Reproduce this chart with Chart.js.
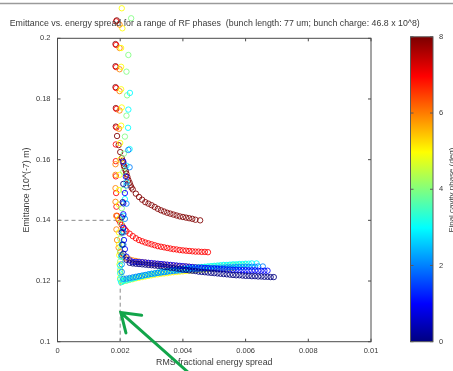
<!DOCTYPE html>
<html>
<head>
<meta charset="utf-8">
<script src="https://cdn.jsdelivr.net/npm/chart.js@4/dist/chart.umd.min.js"></script>
<style>
  html, body { margin: 0; padding: 0; background: #fff; }
  canvas { display: block; }
</style>
</head>
<body>
<canvas id="chart" width="453" height="371"></canvas>
<script>
//--Datos: cada fase de RF es una serie de puntos [dispersion, emitancia]----
var phase0 = [[0.0021,0.152],[0.00208,0.146],[0.00205,0.141],[0.00205,0.136],[0.00207,0.132],[0.0021,0.129],[0.0022,0.127],[0.0023,0.126],
  [0.0024,0.1258],[0.0025,0.1257],[0.0026,0.1256],[0.0027,0.1255],[0.0028,0.1254],[0.0029,0.1253],[0.0030,0.1252],[0.0031,0.1251],[0.0032,0.1250],
  [0.0033,0.1249],[0.0034,0.1247],[0.0035,0.1246],[0.0036,0.1244],[0.0037,0.1243],[0.0038,0.1241],[0.0039,0.1240],[0.0040,0.1238],[0.0041,0.1237],
  [0.0042,0.1235],[0.0043,0.1234],[0.0044,0.1233],[0.0045,0.1231],[0.0046,0.1230],[0.0047,0.1229],[0.0048,0.1228],[0.0049,0.1227],[0.0050,0.1226],
  [0.0051,0.1225],[0.0052,0.1224],[0.0053,0.1223],[0.0054,0.1222],[0.0055,0.1221],[0.0056,0.1220],[0.0057,0.1219],[0.0058,0.1219],[0.0059,0.1218],
  [0.0060,0.1217],[0.0061,0.1217],[0.0062,0.1216],[0.0063,0.1216],[0.0064,0.1215],[0.0065,0.1215],[0.0066,0.1214],[0.0067,0.1214],[0.0068,0.1213],[0.0069,0.1213]];

var phase1 = [[0.0021,0.1593],[0.00218,0.1544],[0.00215,0.149],[0.0021,0.1456],[0.0021,0.142],[0.0021,0.1375],[0.00212,0.1335],[0.00215,0.1305],[0.0022,0.128],[0.0023,0.1268],
  [0.0024,0.1263],[0.0025,0.1263],[0.0026,0.1262],[0.0027,0.1262],[0.0028,0.1261],[0.0029,0.1260],[0.0030,0.1259],[0.0031,0.1258],[0.0032,0.1257],
  [0.0033,0.1256],[0.0034,0.1255],[0.0035,0.1254],[0.0036,0.1253],[0.0037,0.1252],[0.0038,0.1251],[0.0039,0.1250],[0.0040,0.1249],[0.0041,0.1248],
  [0.0042,0.1247],[0.0043,0.1246],[0.0044,0.1245],[0.0045,0.1244],[0.0046,0.1244],[0.0047,0.1243],[0.0048,0.1242],[0.0049,0.1241],[0.0050,0.1241],
  [0.0051,0.1240],[0.0052,0.1239],[0.0053,0.1239],[0.0054,0.1238],[0.0055,0.1238],[0.0056,0.1237],[0.0057,0.1237],[0.0058,0.1236],[0.0059,0.1236],
  [0.0060,0.1236],[0.0061,0.1235],[0.0062,0.1235],[0.0063,0.1235],[0.0064,0.1234],[0.0065,0.1234],[0.0066,0.1234],[0.0067,0.1234]];

var phase2 = [[0.00226,0.1632],[0.0023,0.1575],[0.0022,0.1515],[0.0022,0.1455],[0.00215,0.1405],[0.0021,0.136],[0.0021,0.132],[0.00205,0.1285],[0.00205,0.1255],[0.00205,0.123],
  [0.0021,0.1207],[0.0022,0.1208],[0.0023,0.1210],[0.0024,0.1212],[0.0025,0.1214],[0.0026,0.1216],[0.0027,0.1218],[0.0028,0.1220],[0.0029,0.1222],
  [0.0030,0.1224],[0.0031,0.1225],[0.0032,0.1227],[0.0033,0.1228],[0.0034,0.1229],[0.0035,0.1231],[0.0036,0.1232],[0.0037,0.1233],[0.0038,0.1234],
  [0.0039,0.1235],[0.0040,0.1236],[0.0041,0.1237],[0.0042,0.1238],[0.0043,0.1239],[0.0044,0.1239],[0.0045,0.1240],[0.0046,0.1241],[0.0047,0.1241],
  [0.0048,0.1242],[0.0049,0.1242],[0.0050,0.1243],[0.0051,0.1243],[0.0052,0.1244],[0.0053,0.1244],[0.0054,0.1245],[0.0055,0.1245],[0.0056,0.1245],
  [0.0057,0.1246],[0.0058,0.1246],[0.0059,0.1246],[0.0060,0.1247],[0.0061,0.1247],[0.0062,0.1247],[0.0063,0.1247],[0.0064,0.1248],[0.00655,0.1248]];

var phase3 = [[0.00231,0.182],[0.00226,0.1765],[0.00225,0.1705],[0.0023,0.1635],[0.0022,0.158],[0.0022,0.1525],[0.00215,0.147],[0.0021,0.1415],[0.00208,0.1365],
  [0.00205,0.132],[0.00203,0.128],[0.002,0.125],[0.002,0.1225],[0.002,0.1205],[0.00203,0.1196],
  [0.0021,0.1200],[0.0022,0.1202],[0.0023,0.1205],[0.0024,0.1208],[0.0025,0.1211],[0.0026,0.1214],[0.0027,0.1216],[0.0028,0.1219],[0.0029,0.1221],
  [0.0030,0.1223],[0.0031,0.1225],[0.0032,0.1227],[0.0033,0.1229],[0.0034,0.1231],[0.0035,0.1232],[0.0036,0.1234],[0.0037,0.1235],[0.0038,0.1237],
  [0.0039,0.1238],[0.0040,0.1239],[0.0041,0.1241],[0.0042,0.1242],[0.0043,0.1243],[0.0044,0.1244],[0.0045,0.1245],[0.0046,0.1246],[0.0047,0.1247],
  [0.0048,0.1248],[0.0049,0.1249],[0.0050,0.1250],[0.0051,0.1251],[0.0052,0.1252],[0.0053,0.1253],[0.0054,0.1253],[0.0055,0.1254],[0.0056,0.1255],
  [0.0057,0.1255],[0.0058,0.1256],[0.0059,0.1256],[0.0060,0.1257],[0.0061,0.1257],[0.0062,0.1258],[0.00635,0.1258]];

var phase4 = [[0.00235,0.2066],[0.00226,0.1945],[0.0022,0.189],[0.00222,0.1812],[0.0022,0.1745],[0.00215,0.1676],[0.00212,0.162],[0.0021,0.156],[0.0021,0.15],
  [0.00205,0.144],[0.00203,0.139],[0.002,0.134],[0.002,0.13],[0.002,0.1265],[0.002,0.1237],[0.00205,0.1215],[0.0021,0.1203],
  [0.0022,0.1205],[0.0023,0.1207],[0.0024,0.1210],[0.0025,0.1212],[0.0026,0.1215],[0.0027,0.1217],[0.0028,0.1219],[0.0029,0.1221],[0.0030,0.1223],
  [0.0031,0.1225],[0.0032,0.1227],[0.0033,0.1229],[0.0034,0.1230],[0.0035,0.1232],[0.0036,0.1233],[0.0037,0.1235],[0.0038,0.1236],[0.0039,0.1237],
  [0.0040,0.1238],[0.0041,0.1240],[0.0042,0.1241],[0.0043,0.1242],[0.0044,0.1243],[0.0045,0.1244],[0.0046,0.1245],[0.0047,0.1246],[0.0048,0.1247],
  [0.0049,0.1248],[0.0050,0.1249],[0.0051,0.1249],[0.0052,0.1250],[0.0053,0.1251],[0.0054,0.1251],[0.0055,0.1252],[0.0056,0.1253],[0.0057,0.1253],
  [0.0058,0.1254],[0.0059,0.1254],[0.0060,0.1255]];

var phase5 = [[0.00205,0.2099],[0.00207,0.2033],[0.00203,0.1968],[0.00203,0.1906],[0.00203,0.1832],[0.00205,0.1772],[0.00203,0.1712],[0.002,0.1655],[0.002,0.16],
  [0.00198,0.155],[0.00196,0.15],[0.00196,0.1452],[0.00196,0.1405],[0.00196,0.136],[0.00196,0.132],[0.00197,0.1285],[0.00198,0.1255],[0.002,0.123],
  [0.002,0.121],[0.00205,0.1197],
  [0.0021,0.1199],[0.0022,0.1201],[0.0023,0.1204],[0.0024,0.1206],[0.0025,0.1209],[0.0026,0.1211],[0.0027,0.1213],[0.0028,0.1215],[0.0029,0.1217],
  [0.0030,0.1219],[0.0031,0.1221],[0.0032,0.1222],[0.0033,0.1224],[0.0034,0.1225],[0.0035,0.1226],[0.0036,0.1228],[0.0037,0.1229],[0.0038,0.1230],
  [0.0039,0.1231],[0.0040,0.1232],[0.0041,0.1233],[0.0042,0.1234],[0.0043,0.1235],[0.0044,0.1236],[0.0045,0.1237],[0.0046,0.1238],[0.0047,0.1238],
  [0.0048,0.1239],[0.0049,0.1240],[0.0050,0.1240],[0.0051,0.1241],[0.0052,0.1241],[0.0053,0.1242],[0.0054,0.1242],[0.0055,0.1243],[0.0056,0.1243]];

var phase6 = [[0.00198,0.2045],[0.00198,0.1968],[0.00198,0.1898],[0.00198,0.1826],[0.00198,0.1762],[0.00196,0.1702],
  [0.00185,0.1585],[0.00185,0.155],[0.00185,0.1506],[0.00185,0.1461],[0.00187,0.1415],[0.00188,0.137],[0.0019,0.1335],[0.00195,0.131],
  [0.002,0.1295],[0.00205,0.1285],[0.0021,0.128],[0.0022,0.1275],[0.0023,0.1271],
  [0.0024,0.1268],[0.0025,0.1266],[0.0026,0.1264],[0.0027,0.1262],[0.0028,0.1261],[0.0029,0.1259],[0.0030,0.1258],[0.0031,0.1257],[0.0032,0.1256],
  [0.0033,0.1255],[0.0034,0.1254],[0.0035,0.1253],[0.0036,0.1252],[0.0037,0.1251],[0.0038,0.1250],[0.0039,0.1249],[0.0040,0.1248],[0.0041,0.1248],
  [0.0042,0.1247],[0.0043,0.1246],[0.0044,0.1245],[0.0045,0.1245],[0.0046,0.1244],[0.0047,0.1244],[0.0048,0.1243],[0.0049,0.1243],[0.0050,0.1242],[0.0051,0.1242]];

var phase7 = [[0.00187,0.2056],[0.00187,0.1978],[0.00187,0.1905],[0.00187,0.1836],[0.00188,0.1767],[0.00188,0.1706],[0.00186,0.165],[0.00186,0.1595],
  [0.00186,0.1545],[0.00187,0.149],[0.00188,0.1445],[0.0019,0.1415],[0.00195,0.1402],[0.002,0.1393],[0.00205,0.1385],[0.0021,0.1377],[0.00215,0.137],
  [0.0022,0.1364],[0.0023,0.1356],[0.0024,0.1348],[0.0025,0.1341],[0.0026,0.1335],[0.0027,0.1331],[0.0028,0.1327],[0.0029,0.1324],[0.0030,0.1321],
  [0.0031,0.1318],[0.0032,0.1315],[0.0033,0.1313],[0.0034,0.1311],[0.0035,0.1309],[0.0036,0.1307],[0.0037,0.1305],[0.0038,0.1304],[0.0039,0.1302],
  [0.0040,0.1301],[0.0041,0.1300],[0.0042,0.1299],[0.0043,0.1298],[0.0044,0.1297],[0.0045,0.1297],[0.0046,0.1296],[0.0047,0.1296],[0.0048,0.1295]];

var phase8 = [[0.00189,0.2059],[0.00185,0.1981],[0.00185,0.1908],[0.00185,0.1839],[0.00186,0.1770],[0.00186,0.1709],[0.0019,0.1678],[0.00195,0.1648],
  [0.002,0.1625],[0.00205,0.1605],[0.00208,0.1596],[0.0021,0.1588],[0.00212,0.1579],[0.00215,0.157],[0.00218,0.1562],[0.0022,0.1553],[0.00223,0.1543],
  [0.00226,0.1533],[0.0023,0.1524],[0.00233,0.1515],[0.00236,0.1508],[0.0024,0.1502],[0.0025,0.1488],[0.0026,0.1477],[0.0027,0.1468],[0.0028,0.146],
  [0.0029,0.1455],[0.0030,0.1450],[0.0031,0.1444],[0.0032,0.1438],[0.0033,0.1433],[0.0034,0.1429],[0.0035,0.1425],[0.0036,0.1422],[0.0037,0.1419],
  [0.0038,0.1416],[0.0039,0.1413],[0.0040,0.1411],[0.0041,0.1409],[0.0042,0.1407],[0.0043,0.1405],[0.0044,0.1402],[0.00455,0.1400]];

var phases = [phase0, phase1, phase2, phase3, phase4, phase5, phase6, phase7, phase8];
var phaseValues = [0, 1, 2, 3, 4, 5, 6, 7, 8];

// lineas de referencia punteadas (0.002, 0.14)
var refHorizontal = [[0, 0.14], [0.002, 0.14]];
var refVertical = [[0.002, 0.1], [0.002, 0.12]];

// flecha verde: punta y cola en coordenadas de datos
var arrowTip = [0.00202, 0.1096];
var arrowTail = [0.00416, 0.0900];

var xTicks = [0, 0.002, 0.004, 0.006, 0.008, 0.01];
var yTicks = [0.1, 0.12, 0.14, 0.16, 0.18, 0.2];
var cbTicks = [0, 2, 4, 6, 8];

var titleText = 'Emittance vs. energy spread for a range of RF phases  (bunch length: 77 um; bunch charge: 46.8 x 10^8)';
var xTitle = 'RMS fractional energy spread';
var yTitle = 'Emittance (10^(-7) m)';
var cbTitle = 'Final cavity phase (deg)';

//--Mapa de colores tipo "jet"----------------------------
var jetStops = [[0, [0, 0, 128]], [0.125, [0, 0, 255]], [0.375, [0, 255, 255]], [0.625, [255, 255, 0]], [0.875, [255, 0, 0]], [1, [128, 0, 0]]];

function jet(t) {
    for (var i = 1; i < jetStops.length; i++) {
        if (t <= jetStops[i][0]) {
            var a = jetStops[i - 1], b = jetStops[i];
            var f = (t - a[0]) / (b[0] - a[0]);
            var c = a[1].map(function(v, k) { return Math.round(v + (b[1][k] - v) * f); });
            return 'rgba(' + c.join(',') + ',0.85)';
        }
    }
    return 'rgba(128,0,0,0.85)';
}

function toPoints(arr) {
    return arr.map(function(p) { return {x: p[0], y: p[1]}; });
}

var FONT = '"Liberation Sans", Arial, sans-serif';
var TEXT = '#3a3a3a';

var datasets = phases.map(function(arr, i) {
    return {
        data: toPoints(arr),
        borderColor: jet(phaseValues[i] / 8),
        backgroundColor: 'transparent',
        pointRadius: 2.7,
        pointBorderWidth: 1,
        showLine: false,
        clip: false
    };
});
[refHorizontal, refVertical].forEach(function(arr) {
    datasets.push({
        data: toPoints(arr),
        showLine: true,
        borderColor: '#8a8a8a',
        borderWidth: 1,
        borderDash: [4, 3],
        pointRadius: 0
    });
});

//--Marco, ticks, titulo, barra de color y flecha----------------------------
var decoraciones = {
    id: 'decoraciones',
    beforeDraw: function(chart) {
        var ctx = chart.ctx;
        ctx.save();
        ctx.fillStyle = '#fff';
        ctx.fillRect(0, 0, chart.width, chart.height);
        ctx.strokeStyle = '#9a9a9a';
        ctx.lineWidth = 1.5;
        ctx.beginPath();
        ctx.moveTo(0, 3.5);
        ctx.lineTo(chart.width, 3.5);
        ctx.stroke();
        ctx.restore();
    },
    beforeDatasetsDraw: function(chart) {
        var ctx = chart.ctx, a = chart.chartArea;
        var sx = chart.scales.x, sy = chart.scales.y;
        ctx.save();
        ctx.strokeStyle = '#4a4a4a';
        ctx.lineWidth = 1;
        ctx.strokeRect(a.left, a.top, a.right - a.left, a.bottom - a.top);
        ctx.beginPath();
        xTicks.forEach(function(v) {
            var px = sx.getPixelForValue(v);
            ctx.moveTo(px, a.bottom); ctx.lineTo(px, a.bottom - 3);
            ctx.moveTo(px, a.top); ctx.lineTo(px, a.top + 3);
        });
        yTicks.forEach(function(v) {
            var py = sy.getPixelForValue(v);
            ctx.moveTo(a.left, py); ctx.lineTo(a.left + 3, py);
            ctx.moveTo(a.right, py); ctx.lineTo(a.right - 3, py);
        });
        ctx.stroke();
        ctx.restore();
    },
    afterDatasetsDraw: function(chart) {
        // Chart.js no dibuja los puntos fuera del area; los que pasan de 0.2 se dibujan aqui
        var ctx = chart.ctx, a = chart.chartArea;
        ctx.save();
        chart.data.datasets.forEach(function(ds, i) {
            if (ds.showLine) return;
            chart.getDatasetMeta(i).data.forEach(function(el) {
                if (el.y < a.top - 1) {
                    ctx.strokeStyle = ds.borderColor;
                    ctx.lineWidth = ds.pointBorderWidth;
                    ctx.beginPath();
                    ctx.arc(el.x, el.y, ds.pointRadius, 0, Math.PI * 2);
                    ctx.stroke();
                }
            });
        });
        ctx.restore();
    },
    afterDraw: function(chart) {
        var ctx = chart.ctx, a = chart.chartArea;
        var sx = chart.scales.x, sy = chart.scales.y;
        ctx.save();

        // titulo
        ctx.fillStyle = TEXT;
        ctx.font = '8.8px ' + FONT;
        ctx.textAlign = 'center';
        ctx.textBaseline = 'middle';
        ctx.fillText(titleText, (a.left + a.right) / 2 + 0.5, 24);

        // barra de color
        var cbL = 410.5, cbR = 433;
        var grad = ctx.createLinearGradient(0, a.bottom, 0, a.top);
        jetStops.forEach(function(s) { grad.addColorStop(s[0], 'rgb(' + s[1].join(',') + ')'); });
        ctx.fillStyle = grad;
        ctx.fillRect(cbL, a.top - 1.5, cbR - cbL, a.bottom - a.top + 1.5);
        ctx.strokeStyle = '#5a5a5a';
        ctx.lineWidth = 1;
        ctx.strokeRect(cbL, a.top - 1.5, cbR - cbL, a.bottom - a.top + 1.5);
        ctx.fillStyle = TEXT;
        ctx.font = '7.5px ' + FONT;
        ctx.textAlign = 'left';
        ctx.beginPath();
        cbTicks.forEach(function(v) {
            var py = a.bottom - (v / 8) * (a.bottom - a.top + 1.5);
            ctx.moveTo(cbL, py); ctx.lineTo(cbL + 3, py);
            ctx.moveTo(cbR, py); ctx.lineTo(cbR - 3, py);
            ctx.fillText(String(v), 439, py);
        });
        ctx.stroke();
        ctx.translate(452, (a.top + a.bottom) / 2);
        ctx.rotate(-Math.PI / 2);
        ctx.textAlign = 'center';
        ctx.font = '8px ' + FONT;
        ctx.fillText(cbTitle, 0, 0);
        ctx.setTransform(1, 0, 0, 1, 0, 0);

        // flecha verde
        var tx = sx.getPixelForValue(arrowTip[0]), ty = sy.getPixelForValue(arrowTip[1]);
        var bx = sx.getPixelForValue(arrowTail[0]), by = sy.getPixelForValue(arrowTail[1]);
        var ang = Math.atan2(by - ty, bx - tx);
        ctx.strokeStyle = '#12a54a';
        ctx.lineWidth = 3;
        ctx.lineCap = 'round';
        ctx.beginPath();
        ctx.moveTo(bx, by); ctx.lineTo(tx, ty);
        ctx.moveTo(tx + 21 * Math.cos(ang - 0.6), ty + 21 * Math.sin(ang - 0.6));
        ctx.lineTo(tx, ty);
        ctx.lineTo(tx + 21 * Math.cos(ang + 0.6), ty + 21 * Math.sin(ang + 0.6));
        ctx.stroke();
        ctx.restore();
    }
};

function fmt(v) { return String(Number(v.toFixed(4))); }

var ctx = document.getElementById('chart').getContext('2d');
new Chart(ctx, {
    type: 'scatter',
    data: { datasets: datasets },
    options: {
        responsive: false,
        devicePixelRatio: 1,
        animation: false,
        layout: { padding: { top: 38.3, right: 82, left: 0, bottom: 0 } },
        plugins: { legend: { display: false }, tooltip: { enabled: false }, title: { display: false } },
        scales: {
            x: {
                type: 'linear', min: 0, max: 0.01,
                grid: { display: false, drawTicks: false },
                border: { display: false },
                afterBuildTicks: function(scale) { scale.ticks = xTicks.map(function(v) { return {value: v}; }); },
                afterFit: function(scale) { scale.height = 29.3; },
                ticks: { autoSkip: false, maxRotation: 0, padding: 5, color: TEXT, font: { size: 7.5, family: FONT }, callback: fmt },
                title: { display: true, text: xTitle, color: TEXT, font: { size: 8.8, family: FONT }, padding: { top: 0, bottom: 3.5 } }
            },
            y: {
                type: 'linear', min: 0.1, max: 0.2,
                grid: { display: false, drawTicks: false },
                border: { display: false },
                afterBuildTicks: function(scale) { scale.ticks = yTicks.map(function(v) { return {value: v}; }); },
                afterFit: function(scale) { scale.width = 57.5; },
                ticks: { autoSkip: false, padding: 7, color: TEXT, font: { size: 7.5, family: FONT }, callback: fmt },
                title: { display: true, text: yTitle, color: TEXT, font: { size: 8.8, family: FONT }, padding: { top: 21.5, bottom: 0 } }
            }
        }
    },
    plugins: [decoraciones]
});
</script>
</body>
</html>
